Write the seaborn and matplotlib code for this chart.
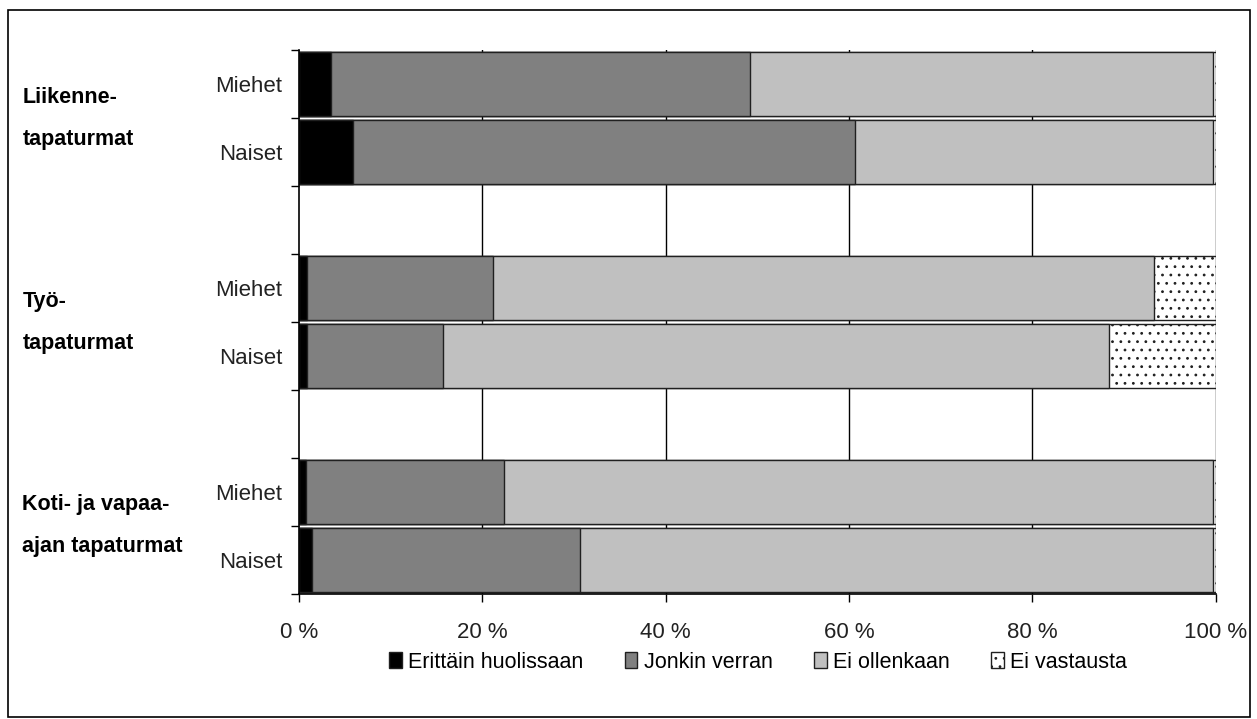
import numpy as np
import pandas as pd
import matplotlib.pyplot as plt
from matplotlib.patches import Rectangle, Patch
import seaborn as sns

# row keys, top to bottom (empty rows are spacers between groups)
rows = ['L_M', 'L_N', 'gap1', 'T_M', 'T_N', 'gap2', 'K_M', 'K_N']
row_labels = ['Miehet', 'Naiset', '', 'Miehet', 'Naiset', '', 'Miehet', 'Naiset']
data_rows = ['L_M', 'L_N', 'T_M', 'T_N', 'K_M', 'K_N']

series = ['Erittäin huolissaan', 'Jonkin verran', 'Ei ollenkaan', 'Ei vastausta']
erittain = [3.5, 5.9, 0.9, 0.9, 0.8, 1.4]
jonkin = [45.7, 54.8, 20.3, 14.8, 21.6, 29.2]
ei_ollenkaan = [50.5, 39.0, 72.1, 72.7, 77.3, 69.1]
ei_vastausta = [0.3, 0.3, 6.7, 11.6, 0.3, 0.3]

groups = ['Liikenne-\n\ntapaturmat', 'Työ-\n\ntapaturmat',
          'Koti- ja vapaa-\n\najan tapaturmat']

colors = ['#000000', '#808080', '#c0c0c0', '#ffffff']
hatches = [None, None, None, '..']

df = pd.DataFrame({'row': data_rows, series[0]: erittain, series[1]: jonkin,
                   series[2]: ei_ollenkaan, series[3]: ei_vastausta})
df = df.set_index('row')
cum = df.cumsum(axis=1)

plt.rcParams['font.family'] = ['Liberation Sans', 'DejaVu Sans']
plt.rcParams['hatch.linewidth'] = 0.8

fig = plt.figure(figsize=(12.57, 7.19), dpi=100)
ax = fig.add_axes([0.238, 0.174, 0.729, 0.756])

for x in [20, 40, 60, 80, 100]:
    ax.axvline(x, color='black', lw=1, zorder=0)

# draw from the longest cumulative segment to the shortest so they stack
for i in range(len(series) - 1, -1, -1):
    s = series[i]
    d = pd.DataFrame({'row': cum.index, 'val': cum[s].values})
    sns.barplot(data=d, x='val', y='row', order=rows, orient='h',
                color=colors[i], saturation=1, width=0.94,
                edgecolor='#202020', linewidth=1, ax=ax, zorder=2)
    if hatches[i]:
        for p in ax.patches[-len(d):]:
            p.set_hatch(hatches[i])

ax.set_xlim(0, 100)
ax.set_ylim(7.5, -0.5)
ax.set_xticks([0, 20, 40, 60, 80, 100])
ax.set_xticklabels(['0 %', '20 %', '40 %', '60 %', '80 %', '100 %'])
ax.set_yticks(range(len(rows)))
ax.set_yticklabels(row_labels)
ax.set_yticks(np.arange(-0.5, 8, 1), minor=True)
ax.tick_params(axis='y', which='major', length=0, pad=12, labelsize=16,
               labelcolor='#222222')
ax.tick_params(axis='y', which='minor', length=6, width=1, color='black')
ax.tick_params(axis='x', length=6, width=1, color='black', pad=14,
               labelsize=16, labelcolor='#222222')
ax.set_xlabel('')
ax.set_ylabel('')
for sp in ['top', 'right']:
    ax.spines[sp].set_visible(False)
for sp in ['left', 'bottom']:
    ax.spines[sp].set_color('black')
    ax.spines[sp].set_linewidth(1.2)

# group labels on the left
for g, yc in zip(groups, [0.5, 3.5, 6.5]):
    ax.text(-0.302, yc, g, transform=ax.get_yaxis_transform(), ha='left',
            va='center', fontsize=15.5, fontweight='bold',
            linespacing=1.0)

handles = [Patch(facecolor=c, edgecolor='#202020', hatch=h, label=s)
           for c, h, s in zip(colors, hatches, series)]
fig.legend(handles=handles, loc='center', bbox_to_anchor=(0.603, 0.079),
           ncol=4, frameon=False, fontsize=15.5, handlelength=0.6,
           handleheight=0.8, handletextpad=0.3, columnspacing=1.9)

fig.patches.append(Rectangle((8 / 1257, 2 / 719), 1242 / 1257, 707 / 719,
                             transform=fig.transFigure, fill=False,
                             edgecolor='black', lw=1.2))

fig.savefig('out.png', dpi=100)
